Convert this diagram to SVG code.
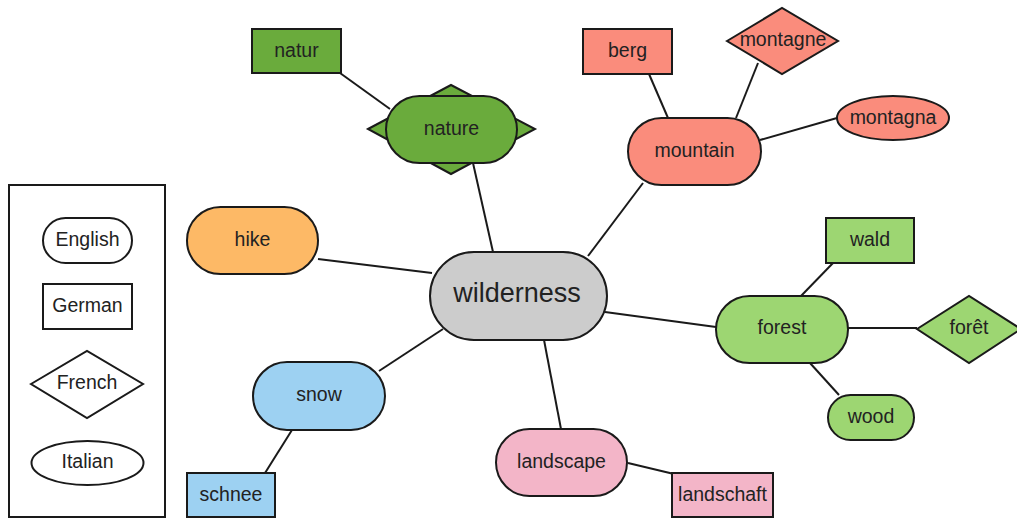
<svg xmlns="http://www.w3.org/2000/svg" width="1017" height="519" viewBox="0 0 1017 519">
<style>
.s{stroke:#1a1a1a;stroke-width:2}
.e{fill:#fff}
.g1{fill:#6aab3c}
.g2{fill:#9dd672}
.r{fill:#fa8c7c}
.o{fill:#fdb966}
.b{fill:#9dd1f2}
.p{fill:#f3b5c8}
.w{fill:#cccccc}
text{font-family:"Liberation Sans",Arial,sans-serif;font-size:19.5px;fill:#222;text-anchor:middle;dominant-baseline:central}
#connectors line{stroke:#1a1a1a;stroke-width:2}
</style>
<rect width="1017" height="519" fill="#fff"/>
<g id="connectors">
<line x1="318" y1="259" x2="432" y2="273"/>
<line x1="473" y1="163" x2="493" y2="252"/>
<line x1="340" y1="73" x2="390" y2="109"/>
<line x1="588" y1="256" x2="643" y2="183"/>
<line x1="649" y1="74" x2="668" y2="118"/>
<line x1="758" y1="63" x2="736" y2="118"/>
<line x1="760" y1="140" x2="837" y2="118"/>
<line x1="605" y1="312" x2="716" y2="327"/>
<line x1="833" y1="263" x2="801" y2="296"/>
<line x1="848" y1="328" x2="917" y2="328"/>
<line x1="810" y1="363" x2="839" y2="395"/>
<line x1="379" y1="371" x2="443" y2="329"/>
<line x1="292" y1="430" x2="265" y2="473"/>
<line x1="544" y1="340" x2="561" y2="429"/>
<line x1="628" y1="463" x2="674" y2="474"/>
</g>
<g id="legend">
<rect class="s e" x="9" y="185" width="156" height="332"/>
<g id="legend-english"><rect class="s e" x="43" y="218" width="89" height="45" rx="22.5"/><text x="87.5" y="239">English</text></g>
<g id="legend-german"><rect class="s e" x="43" y="284" width="89" height="45"/><text x="87.5" y="305">German</text></g>
<g id="legend-french"><polygon class="s e" points="31,384 87,351 143,384 87,418"/><text x="87" y="382">French</text></g>
<g id="legend-italian"><ellipse class="s e" cx="87.5" cy="463" rx="56" ry="22"/><text x="87.5" y="461">Italian</text></g>
</g>
<g id="wilderness"><rect class="s w" x="430" y="252" width="177" height="88" rx="44"/><text x="517" y="293" style="font-size:27px">wilderness</text></g>
<g id="hike"><rect class="s o" x="187" y="207" width="131" height="67" rx="33.5"/><text x="252.5" y="239">hike</text></g>
<g id="nature"><polygon class="s g1" points="368,129 451,85 535,129 451,174"/><rect class="s g1" x="386" y="96" width="131" height="67" rx="33.5"/><text x="451.5" y="128">nature</text></g>
<g id="natur"><rect class="s g1" x="252" y="29" width="89" height="44"/><text x="296.5" y="50">natur</text></g>
<g id="mountain"><rect class="s r" x="628" y="118" width="133" height="67" rx="33.5"/><text x="694.5" y="150">mountain</text></g>
<g id="berg"><rect class="s r" x="583" y="29" width="89" height="45"/><text x="627.5" y="50">berg</text></g>
<g id="montagne"><polygon class="s r" points="727,41 782,8 838,41 782,74"/><text x="783" y="39">montagne</text></g>
<g id="montagna"><ellipse class="s r" cx="893" cy="118" rx="56" ry="22"/><text x="893" y="117">montagna</text></g>
<g id="forest"><rect class="s g2" x="716" y="296" width="132" height="67" rx="33.5"/><text x="782" y="327">forest</text></g>
<g id="wald"><rect class="s g2" x="826" y="218" width="88" height="45"/><text x="870" y="239">wald</text></g>
<g id="foret"><polygon class="s g2" points="917,329 969,296 1021,329 969,363"/><text x="969" y="327">forêt</text></g>
<g id="wood"><rect class="s g2" x="828" y="395" width="86" height="45" rx="22.5"/><text x="871" y="416">wood</text></g>
<g id="snow"><rect class="s b" x="253" y="362" width="132" height="68" rx="34"/><text x="319" y="394">snow</text></g>
<g id="schnee"><rect class="s b" x="187" y="473" width="88" height="44"/><text x="231" y="494">schnee</text></g>
<g id="landscape"><rect class="s p" x="496" y="429" width="131" height="67" rx="33.5"/><text x="561.5" y="461">landscape</text></g>
<g id="landschaft"><rect class="s p" x="672" y="473" width="101" height="44"/><text x="722.5" y="494">landschaft</text></g>
</svg>
